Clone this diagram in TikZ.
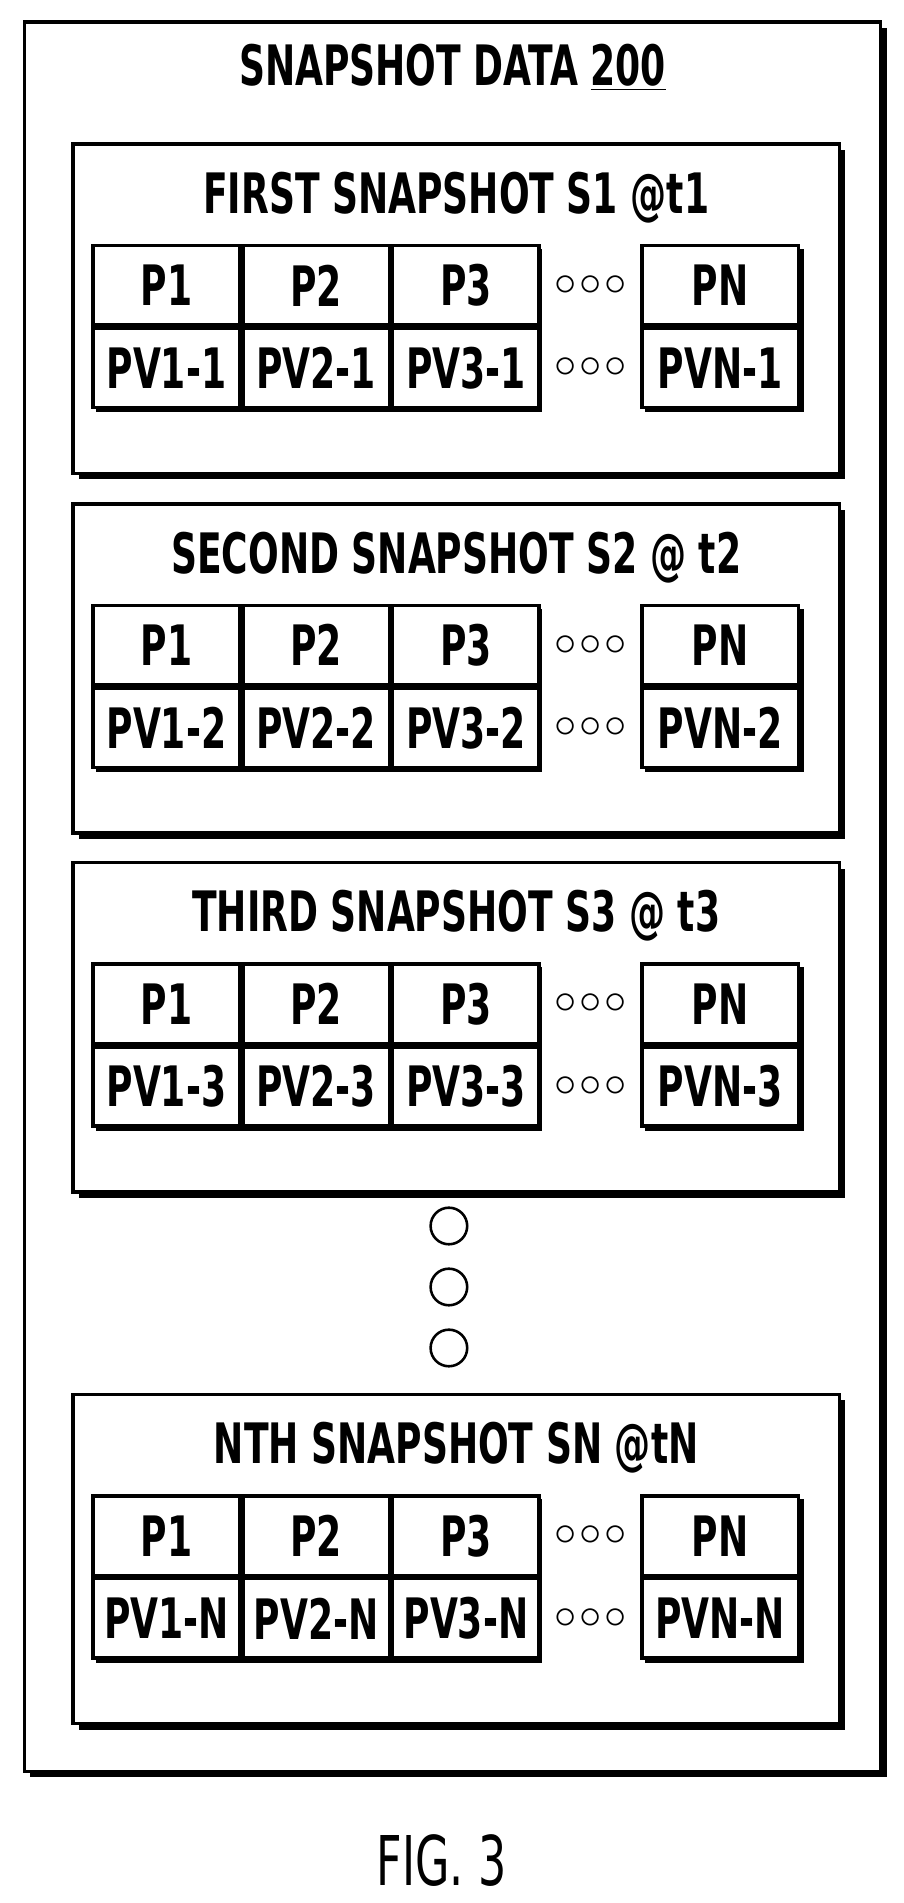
\documentclass[tikz,border=0pt]{standalone}
\usepackage{fontspec}
\setmainfont{DejaVu Sans Condensed}[FakeStretch=0.72]
\usetikzlibrary{positioning, calc}
\tikzset{
  cell/.style={draw, fill=white, line width=1.6pt, minimum width=2.4cm, minimum height=1.3cm,
    inner sep=0pt, font=\bfseries\fontsize{26}{26}\selectfont},
  ttl/.style={inner sep=0pt, font=\bfseries\fontsize{26}{26}\selectfont},
  dots/.style={inner sep=0pt, font=\fontsize{20}{20}\selectfont},
  shade/.style={fill=black},
  frame/.style={draw, fill=white, line width=1.6pt}
}
\newcommand{\shbox}[4]{%
  \fill[shade] (#1+5,#2+5) rectangle (#3+5,#4+5);
  \draw[frame] (#1,#2) rectangle (#3,#4);}
\begin{document}
\begin{tikzpicture}[x=0.02cm, y=-0.02cm]
  \useasboundingbox (0,0) rectangle (741,1560);
  % outer frame
  \shbox{20}{18}{722}{1452}
  \node[ttl] (title) at (371,55) {SNAPSHOT DATA \underline{200}};

  % snapshots
  \foreach \yb/\sfx/\head in {118/1/{FIRST SNAPSHOT S1 @t1},
      413/2/{SECOND SNAPSHOT S2 @ t2},
      707/3/{THIRD SNAPSHOT S3 @ t3},
      1143/N/{NTH SNAPSHOT SN @tN}} {
    \shbox{60}{\yb}{688}{\yb+270}
    \node[ttl] (head\sfx) at (374,\yb+44) {\head};
    % table shadows
    \fill[shade] (79,\yb+86) rectangle (444,\yb+220);
    \fill[shade] (529,\yb+86) rectangle (659,\yb+220);
    % table rows
    \node[cell, anchor=north west] (p1\sfx) at (75,\yb+82) {P1};
    \node[cell, right=0pt of p1\sfx] (p2\sfx) {P2};
    \node[cell, right=0pt of p2\sfx] (p3\sfx) {P3};
    \node[cell, below=0pt of p1\sfx] (v1\sfx) {PV1-\sfx};
    \node[cell, below=0pt of p2\sfx] (v2\sfx) {PV2-\sfx};
    \node[cell, below=0pt of p3\sfx] (v3\sfx) {PV3-\sfx};
    \node[cell, anchor=north west, minimum width=2.56cm] (pn\sfx) at (525,\yb+82) {PN};
    \node[cell, below=0pt of pn\sfx, minimum width=2.56cm] (vn\sfx) {PVN-\sfx};
    \node[dots] (da\sfx) at ($(p3\sfx.east)!0.5!(pn\sfx.west)$) {$\circ\!\circ\!\circ$};
    \node[dots] (db\sfx) at ($(v3\sfx.east)!0.5!(vn\sfx.west)$) {$\circ\!\circ\!\circ$};
  }

  % vertical ellipsis
  \foreach \cy [count=\i] in {1005,1055,1105}
    \draw[line width=1.2pt] (368,\cy) circle (15) coordinate (vd\i);

  \node[inner sep=0pt, font=\fontsize{32}{32}\selectfont] (fig) at (362,1525) {FIG. 3};
\end{tikzpicture}
\end{document}
